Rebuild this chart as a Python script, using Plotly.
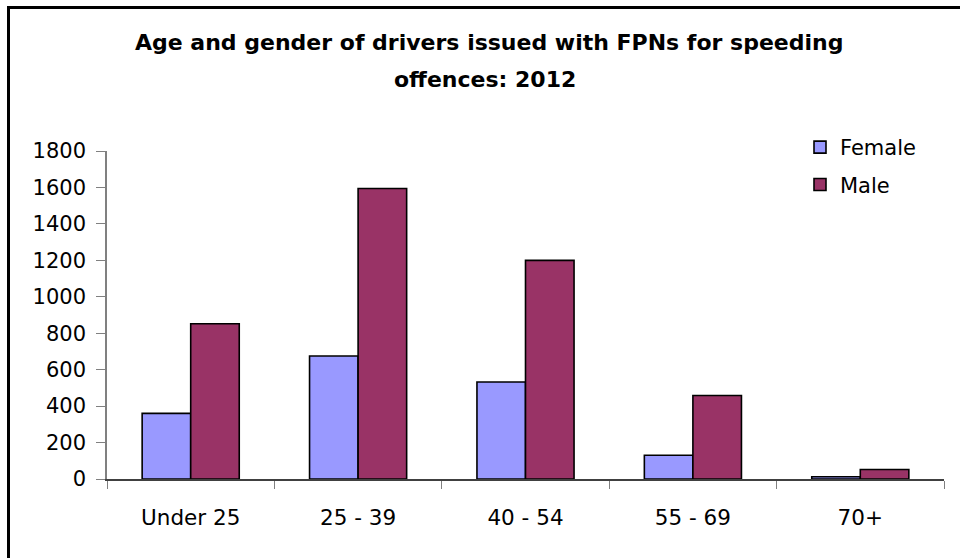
import plotly.graph_objects as go

categories = ["Under 25", "25 - 39", "40 - 54", "55 - 69", "70+"]
female = [360, 675, 532, 130, 12]
male = [852, 1594, 1200, 458, 52]
y_ticks = [0, 200, 400, 600, 800, 1000, 1200, 1400, 1600, 1800]
title_line1 = "Age and gender of drivers issued with FPNs for speeding"
title_line2 = "offences: 2012"

FONT = "DejaVu Sans, Arial, sans-serif"

L, R, T, B = 107, 16, 151, 79
W, H = 960, 558
PW = W - L - R
PH = H - T - B


def px_to_paper_x(px):
    return (px - L) / PW


def px_to_paper_y(py):
    return (H - B - py) / PH


fig = go.Figure()
fig.add_trace(go.Bar(name="Female", x=categories, y=female,
                     marker=dict(color="#9999FF", line=dict(color="#000000", width=1.6)),
                     legendgroup="f"))
fig.add_trace(go.Bar(name="Male", x=categories, y=male,
                     marker=dict(color="#993366", line=dict(color="#000000", width=1.6)),
                     legendgroup="m"))

fig.update_layout(
    width=W, height=H,
    paper_bgcolor="white", plot_bgcolor="white",
    margin=dict(l=L, r=R, t=T, b=B, autoexpand=False),
    barmode="group", bargap=0.42, bargroupgap=0,
    font=dict(family=FONT, color="#000000", size=21),
    showlegend=True,
    legend=dict(xref="paper", yref="paper", x=px_to_paper_x(800), y=px_to_paper_y(127),
                xanchor="left", yanchor="top", bgcolor="rgba(0,0,0,0)",
                font=dict(size=21), tracegroupgap=7, traceorder="grouped"),
    xaxis=dict(type="category", range=[-0.5, 4.5], showgrid=False,
               showline=True, linecolor="#404040", linewidth=1.5,
               ticks="outside", tickson="boundaries", ticklen=8, tickcolor="#808080",
               tickfont=dict(size=21.5), ticklabelstandoff=18, fixedrange=True),
    yaxis=dict(range=[0, 1800], tickvals=y_ticks, showgrid=False, zeroline=False,
               showline=True, linecolor="#808080", linewidth=1.5,
               ticks="outside", ticklen=9, tickcolor="#808080",
               tickfont=dict(size=21), ticklabelstandoff=6, fixedrange=True),
    annotations=[
        dict(text="<b>" + title_line1 + "</b>", xref="paper", yref="paper",
             x=px_to_paper_x(489), y=px_to_paper_y(42), xanchor="center", yanchor="middle",
             showarrow=False, font=dict(size=22, family=FONT)),
        dict(text="<b>" + title_line2 + "</b>", xref="paper", yref="paper",
             x=px_to_paper_x(485), y=px_to_paper_y(79), xanchor="center", yanchor="middle",
             showarrow=False, font=dict(size=22, family=FONT)),
    ],
    shapes=[
        dict(type="rect", xref="paper", yref="paper",
             x0=px_to_paper_x(8.5), y0=-0.6, x1=1.2, y1=px_to_paper_y(7.5),
             line=dict(color="#000000", width=3), layer="above"),
    ],
)

fig.write_html("out.html", config={"displayModeBar": False},
               post_script="document.body.style.margin='0';document.body.style.padding='0';")
